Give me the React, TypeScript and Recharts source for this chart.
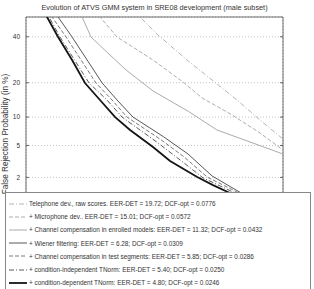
import React from 'react';
import { LineChart, Line, XAxis, YAxis, CartesianGrid, ReferenceArea } from 'recharts';

// DET curves: [false acceptance %, false rejection %]
const telephoneRaw: [number, number][] = [
  [3.08, 53.6], [3.36, 50], [5.48, 40.9], [10.95, 29.1], [19.72, 19.72], [27.8, 14.4], [38.4, 9.36], [50, 5.91],
];
const microphoneDev: [number, number][] = [
  [0.863, 53.6], [0.956, 50], [1.68, 39.9], [4.8, 29.1], [10.0, 20.3], [15.01, 15.01], [25.7, 10.5], [38.4, 6.88], [50, 4.43],
];
const chanCompEnrolled: [number, number][] = [
  [0.451, 53.6], [0.504, 50], [0.698, 39.9], [1.34, 31.3], [2.22, 24.9], [4.8, 17.2], [11.32, 11.32], [19.9, 7.4], [33.7, 5.47], [50, 3.97],
];
const wiener: [number, number][] = [
  [0.176, 53.6], [0.199, 50], [0.346, 39.9], [1.03, 19.9], [1.68, 14.4], [2.74, 10.0], [6.28, 6.28], [11.2, 3.97], [18.2, 2.09], [28.2, 1.29], [38.9, 0.833], [50.5, 0.522],
];
const chanCompTest: [number, number][] = [
  [0.137, 53.6], [0.155, 50], [0.274, 39.9], [0.833, 19.9], [1.43, 14.4], [2.29, 10.0], [5.85, 5.85], [10.3, 3.65], [16.6, 2.02], [27.8, 1.25], [38.4, 0.804], [50, 0.503],
];
const ciTNorm: [number, number][] = [
  [0.121, 53.6], [0.137, 50], [0.215, 39.9], [0.651, 19.9], [1.21, 14.4], [1.97, 10.0], [5.4, 5.4], [9.38, 3.36], [15.3, 1.97], [27.0, 1.21], [37.5, 0.776], [49.5, 0.485],
];
const cdTNorm: [number, number][] = [
  [0.111, 53.6], [0.126, 50], [0.199, 39.9], [0.346, 29.1], [0.562, 19.9], [0.956, 14.4], [1.58, 10.0], [2.51, 7.4], [4.8, 4.8], [7.41, 3.26], [13.6, 2.02], [18.5, 1.57], [25.7, 1.17], [36.0, 0.72], [48.5, 0.43],
];

const seriesNames = [
  'Telephone dev., raw scores. EER-DET = 19.72; DCF-opt = 0.0776',
  '+ Microphone dev.. EER-DET = 15.01; DCF-opt = 0.0572',
  '+ Channel compensation in enrolled models: EER-DET = 11.32; DCF-opt = 0.0432',
  '+ Wiener filtering: EER-DET = 6.28; DCF-opt = 0.0309',
  '+ Channel compensation in test segments: EER-DET = 5.85; DCF-opt = 0.0286',
  '+ condition-independent TNorm: EER-DET = 5.40; DCF-opt = 0.0250',
  '+ condition-dependent TNorm: EER-DET = 4.80; DCF-opt = 0.0246',
];
const tickPercents = [0.1, 0.2, 0.5, 1, 2, 5, 10, 20, 40];
const axisRange = [0.05, 50];

function probit(p: number): number {
  const a = [-3.969683028665376e1, 2.209460984245205e2, -2.759285104469687e2, 1.38357751867269e2, -3.066479806614716e1, 2.506628277459239];
  const b = [-5.447609879822406e1, 1.615858368580409e2, -1.556989798598866e2, 6.680131188771972e1, -1.328068155288572e1];
  const c = [-7.784894002430293e-3, -3.223964580411365e-1, -2.400758277161838, -2.549732539343734, 4.374664141464968, 2.938163982698783];
  const d = [7.784695709041462e-3, 3.224671290700398e-1, 2.445134137142996, 3.754408661907416];
  const pl = 0.02425;
  if (p < pl) {
    const q = Math.sqrt(-2 * Math.log(p));
    return (((((c[0] * q + c[1]) * q + c[2]) * q + c[3]) * q + c[4]) * q + c[5]) / ((((d[0] * q + d[1]) * q + d[2]) * q + d[3]) * q + 1);
  }
  if (p <= 1 - pl) {
    const q = p - 0.5;
    const r = q * q;
    return ((((((a[0] * r + a[1]) * r + a[2]) * r + a[3]) * r + a[4]) * r + a[5]) * q) / (((((b[0] * r + b[1]) * r + b[2]) * r + b[3]) * r + b[4]) * r + 1);
  }
  const q = Math.sqrt(-2 * Math.log(1 - p));
  return -(((((c[0] * q + c[1]) * q + c[2]) * q + c[3]) * q + c[4]) * q + c[5]) / ((((d[0] * q + d[1]) * q + d[2]) * q + d[3]) * q + 1);
}

const toDet = (pts: [number, number][]) => pts.map(([fa, fr]) => ({ x: probit(fa / 100), y: probit(fr / 100) }));

const styles = [
  { stroke: '#aaaaaa', dash: '5 2 1 2', width: 0.9 },
  { stroke: '#a4a4a4', dash: '4 2', width: 0.9 },
  { stroke: '#a2a2a2', dash: undefined, width: 0.9 },
  { stroke: '#585858', dash: undefined, width: 1 },
  { stroke: '#6a6a6a', dash: '4 2', width: 0.9 },
  { stroke: '#484848', dash: '5 2 1 2', width: 0.9 },
  { stroke: '#151515', dash: undefined, width: 1.8 },
];
const allSeries = [telephoneRaw, microphoneDev, chanCompEnrolled, wiener, chanCompTest, ciTNorm, cdTNorm];

const FONT = '"Liberation Sans", Arial, Helvetica, sans-serif';
const lo = probit(axisRange[0] / 100);
const hi = probit(axisRange[1] / 100);
const ticks = tickPercents.map((t) => probit(t / 100));
const fmt = (v: number) => {
  const i = ticks.findIndex((t) => Math.abs(t - v) < 1e-6);
  return i >= 0 ? String(tickPercents[i]) : '';
};
const blank = () => '';
const tickLineStyle = { stroke: '#444', strokeWidth: 0.8 };

export default function App() {
  return (
    <div style={{ position: 'absolute', left: 0, top: 0, width: 314, height: 289, background: '#fff', overflow: 'hidden' }}>
      <div style={{ position: 'absolute', left: 26, width: 257, top: 3, textAlign: 'center', fontFamily: FONT, fontSize: 7.3, color: '#333', whiteSpace: 'nowrap' }}>
        Evolution of ATVS GMM system in SRE08 development (male subset)
      </div>
      <LineChart width={314} height={289} margin={{ top: 17, right: 31, bottom: 0, left: 0 }}>
        <CartesianGrid stroke="#b5b5b5" strokeDasharray="1 2" strokeWidth={0.8} />
        <XAxis type="number" dataKey="x" domain={[lo, hi]} ticks={ticks} tickFormatter={fmt} allowDataOverflow height={15}
          axisLine={false} tickLine={false} tick={false} interval={0} />
        <XAxis xAxisId="topIn" orientation="top" mirror type="number" domain={[lo, hi]} ticks={ticks} allowDataOverflow height={10}
          axisLine={false} tickLine={tickLineStyle} tickSize={3} tickFormatter={blank} tick={{ fontSize: 1 }} interval={0} />
        <YAxis type="number" dataKey="y" domain={[lo, hi]} ticks={ticks} tickFormatter={fmt} allowDataOverflow width={26}
          axisLine={false} tickLine={false} tickSize={4} tickMargin={2} interval={0}
          tick={{ fontSize: 6.5, fill: '#333', fontFamily: FONT }}
          label={{
            content: () => (
              <text x={8} y={134} transform="rotate(-90 8 134)" textAnchor="middle" fontSize={8.2} fill="#333" fontFamily={FONT}>
                False Rejection Probability (in %)
              </text>
            ),
          }} />
        <YAxis yAxisId="leftIn" orientation="left" mirror type="number" domain={[lo, hi]} ticks={ticks} allowDataOverflow width={10}
          axisLine={false} tickLine={tickLineStyle} tickSize={3} tickFormatter={blank} tick={{ fontSize: 1 }} interval={0} />
        <YAxis yAxisId="rightIn" orientation="right" mirror type="number" domain={[lo, hi]} ticks={ticks} allowDataOverflow width={10}
          axisLine={false} tickLine={tickLineStyle} tickSize={3} tickFormatter={blank} tick={{ fontSize: 1 }} interval={0} />
        {allSeries.map((s, i) => (
          <Line key={i} data={toDet(s)} dataKey="y" type="linear" dot={false} activeDot={false}
            stroke={styles[i].stroke} strokeWidth={styles[i].width} strokeDasharray={styles[i].dash}
            isAnimationActive={false} name={seriesNames[i]} />
        ))}
        <ReferenceArea x1={lo} x2={hi} y1={lo} y2={hi} fill="none" fillOpacity={0} stroke="#444" strokeWidth={0.8} />
      </LineChart>
      <div style={{ position: 'absolute', left: 5, top: 192, width: 306, height: 110, background: '#fff', border: '0.8px solid #888', boxSizing: 'border-box', fontFamily: FONT, fontSize: 6.4, color: '#333', paddingTop: 4 }}>
        {seriesNames.map((n, i) => (
          <div key={i} style={{ height: 13.2, display: 'flex', alignItems: 'center', whiteSpace: 'nowrap' }}>
            <svg width={23} height={8} style={{ display: 'block', flex: 'none' }}>
              <line x1={3} y1={4} x2={21} y2={4} stroke={styles[i].stroke} strokeWidth={styles[i].width} strokeDasharray={styles[i].dash} />
            </svg>
            <span>{n}</span>
          </div>
        ))}
      </div>
    </div>
  );
}
